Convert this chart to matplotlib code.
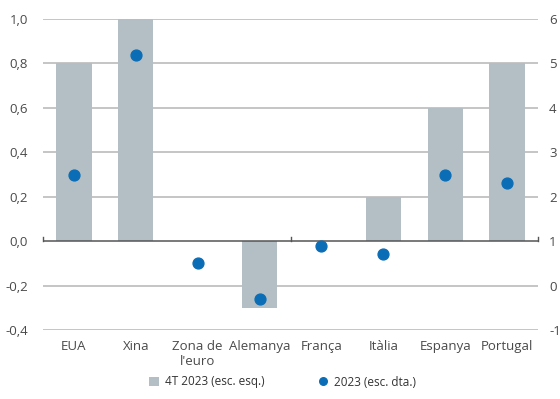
import matplotlib
matplotlib.use("Agg")
import matplotlib.pyplot as plt
import numpy as np

plt.rcParams['font.family'] = ['Open Sans', 'DejaVu Sans']

categories = ["EUA", "Xina", "Zona de\nl'euro", "Alemanya", "França", "Itàlia", "Espanya", "Portugal"]
q4_2023 = [0.8, 1.0, 0.0, -0.3, 0.0, 0.2, 0.6, 0.8]      # left scale
year_2023 = [2.5, 5.2, 0.5, -0.3, 0.9, 0.7, 2.5, 2.3]    # right scale
left_ticks = [-0.4, -0.2, 0.0, 0.2, 0.4, 0.6, 0.8, 1.0]
right_ticks = [-1, 0, 1, 2, 3, 4, 5, 6]

bar_color = "#b3bfc5"
dot_color = "#0b6db6"
grid_color = "#b5b5b5"
text_color = "#4a4a4a"

fig = plt.figure(figsize=(5.6, 3.99), dpi=100)
ax = fig.add_axes([43/560, 1-330/399, (538-43)/560, (330-19)/399])
ax2 = ax.twinx()

x = np.arange(len(categories))
ax.set_xlim(-0.5, len(categories) - 0.5)
ax.set_ylim(-0.4, 1.0)
ax2.set_ylim(-1, 6)

for t in left_ticks:
    if t != 0:
        ax.axhline(t, color=grid_color, lw=1.1, zorder=0)

bars = ax.bar(x, q4_2023, width=0.57, color=bar_color, zorder=2,
              label="4T 2023 (esc. esq.)")
ax.axhline(0, color="#555555", lw=1.1, zorder=3)
# small boundary ticks on the zero line
for b in [-0.5, 3.5, 7.5]:
    ax.plot([b, b], [0, 0.02], color="#555555", lw=1.0, zorder=3, clip_on=False)

dots, = ax2.plot(x, year_2023, 'o', color=dot_color, markersize=7.8, zorder=4,
                 label="2023 (esc. dta.)")

for a in (ax, ax2):
    for s in a.spines.values():
        s.set_visible(False)

ax.set_yticks(left_ticks)
ax.set_yticklabels([f"{t:.1f}".replace(".", ",") for t in left_ticks])
ax2.set_yticks(right_ticks)
ax2.set_yticklabels([str(t) for t in right_ticks])
ax.tick_params(axis='y', length=0, pad=11, labelsize=9.5, labelcolor=text_color)
ax2.tick_params(axis='y', length=0, pad=8, labelsize=9.5, labelcolor=text_color)
ax.set_xticks(x)
ax.set_xticklabels(categories, linespacing=1.2)
ax.tick_params(axis='x', length=0, pad=7, labelsize=9.5, labelcolor=text_color)

leg = fig.legend(handles=[bars, dots], loc='center', bbox_to_anchor=(0.505, 1-382/399),
                 ncol=2, frameon=False, fontsize=8.5, handlelength=0.8, handleheight=0.9,
                 columnspacing=4.6, handletextpad=0.5, labelcolor="#333333",
                 markerscale=0.7)

fig.savefig("out.png", dpi=100)
